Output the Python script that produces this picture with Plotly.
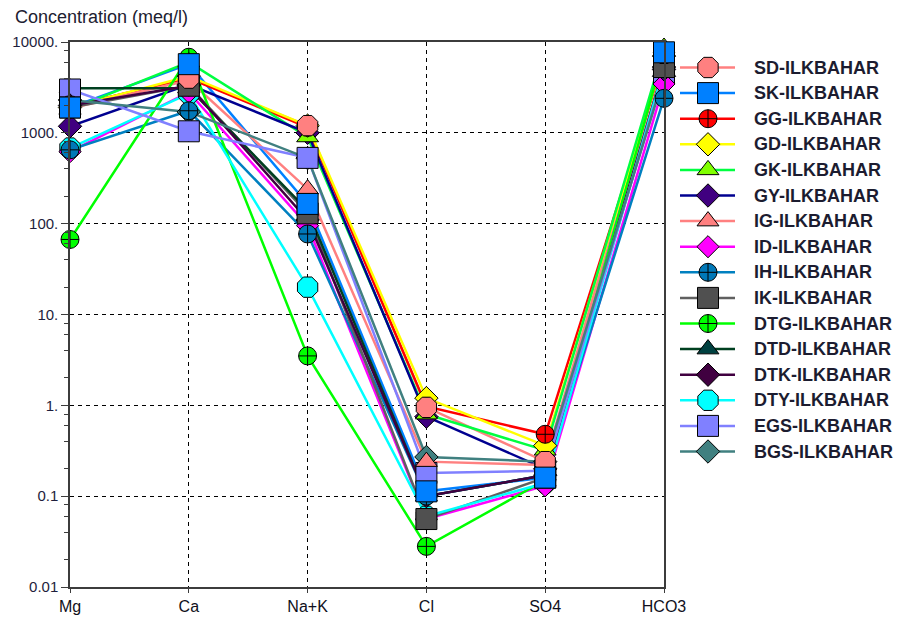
import plotly.graph_objects as go

# Ions along the x axis
ions = ["Mg", "Ca", "Na+K", "Cl", "SO4", "HCO3"]

# Concentrations (meq/l) per sampling point, in ion order above
SD = [1950, 4000, 1200, 0.95, 0.24, 7500]
SK = [1900, 5700, 165, 0.113, 0.16, 7700]
GG = [1950, 4000, 1150, 0.97, 0.48, 6500]
GD = [1900, 4200, 1200, 1.2, 0.36, 7000]
GK = [1800, 6000, 900, 0.8, 0.32, 8700]
GY = [1180, 3400, 1000, 0.75, 0.20, 5000]
IG = [1850, 3800, 240, 0.24, 0.22, 5500]
ID = [620, 2800, 95, 0.056, 0.13, 3450]
IH = [650, 1750, 77, 0.10, 0.17, 2400]
IK = [1900, 3300, 130, 0.056, 0.16, 5300]
DTG = [67, 6800, 3.5, 0.028, 0.15, 7800]
DTD = [3100, 3100, 140, 0.10, 0.17, 5000]
DTK = [2000, 3300, 110, 0.10, 0.17, 5300]
DTY = [680, 2700, 20, 0.06, 0.14, 5200]
EGS = [3000, 1040, 530, 0.18, 0.19, 4500]
BGS = [2300, 1700, 527, 0.27, 0.24, 4200]

names = ["SD-ILKBAHAR", "SK-ILKBAHAR", "GG-ILKBAHAR", "GD-ILKBAHAR", "GK-ILKBAHAR",
         "GY-ILKBAHAR", "IG-ILKBAHAR", "ID-ILKBAHAR", "IH-ILKBAHAR", "IK-ILKBAHAR",
         "DTG-ILKBAHAR", "DTD-ILKBAHAR", "DTK-ILKBAHAR", "DTY-ILKBAHAR", "EGS-ILKBAHAR",
         "BGS-ILKBAHAR"]
series = [SD, SK, GG, GD, GK, GY, IG, ID, IH, IK, DTG, DTD, DTK, DTY, EGS, BGS]

y_ticks = [0.01, 0.1, 1, 10, 100, 1000, 10000]
y_ticktext = ["0.01", "0.1", "1.", "10.", "100.", "1000.", "10000."]

# (line colour, marker fill, symbol, marker size)
styles = [
    ("#FF8080", "#FF8080", "octagon", 22),
    ("#0080FF", "#0080FF", "square", 21),
    ("#FF0000", "#FF0000", "circle-cross", 18),
    ("#FFFF00", "#FFFF00", "diamond", 18),
    ("#00FF40", "#80FF00", "triangle-up", 19),
    ("#000090", "#400080", "diamond", 18),
    ("#FF8080", "#FF8080", "triangle-up", 19),
    ("#FF00FF", "#FF00FF", "diamond", 17),
    ("#0080C0", "#0078B8", "circle-cross", 18),
    ("#606060", "#505050", "square", 21),
    ("#00FF00", "#00FF00", "circle-cross", 18),
    ("#004020", "#004040", "triangle-up", 19),
    ("#400040", "#400040", "diamond", 18),
    ("#00FFFF", "#00FFFF", "octagon", 22),
    ("#8080FF", "#8080FF", "square", 21),
    ("#408080", "#408080", "diamond", 18),
]

# stacking of the markers, bottom first
stack = ["BGS", "DTD", "EGS", "DTY", "DTK", "DTG", "ID", "IH", "GY", "IG",
         "GK", "GD", "GG", "IK", "SD", "SK"]

W, H = 900, 620
ML, MT, MB = 70, 42, 33
plot_w = 594
paper_w = W - ML
xdom_main = plot_w / paper_w

fig = go.Figure()
xs = list(range(len(ions)))

# connecting lines first
for vals, (lc, fc, sym, sz) in zip(series, styles):
    fig.add_trace(go.Scatter(x=xs, y=vals, mode="lines",
                             line=dict(color=lc, width=2.5),
                             hoverinfo="skip", showlegend=False, cliponaxis=False))

short = [n.split("-")[0] for n in names]
for key in stack:
    i = short.index(key)
    lc, fc, sym, sz = styles[i]
    fig.add_trace(go.Scatter(x=xs, y=series[i], mode="markers", name=names[i],
                             marker=dict(symbol=sym, size=sz, color=fc,
                                         line=dict(color="#000000", width=1)),
                             showlegend=False, cliponaxis=False))

# key on its own pixel-scaled axes at the right
row0, row_step = 67.5, 25.6
annotations = []
for i, (nm, (lc, fc, sym, sz)) in enumerate(zip(names, styles)):
    yy = row0 + i * row_step
    fig.add_trace(go.Scatter(x=[680, 735], y=[yy, yy], mode="lines",
                             line=dict(color=lc, width=2.5), xaxis="x2", yaxis="y2",
                             showlegend=False, hoverinfo="skip", cliponaxis=False))
    fig.add_trace(go.Scatter(x=[708], y=[yy], mode="markers", xaxis="x2", yaxis="y2",
                             marker=dict(symbol=sym, size=sz, color=fc,
                                         line=dict(color="#000000", width=1)),
                             showlegend=False, hoverinfo="skip", cliponaxis=False))
    annotations.append(dict(x=752, y=yy, xref="x2", yref="y2", text=nm, showarrow=False,
                            xanchor="left", yanchor="middle",
                            font=dict(family="Liberation Sans, Arial, sans-serif",
                                      size=18, color="#1c1c30", weight="bold")))

annotations.append(dict(x=(13 - ML) / paper_w, y=1 + 25 / (H - MT - MB), xref="paper",
                        yref="paper", text="Concentration (meq/l)", showarrow=False,
                        xanchor="left", yanchor="middle",
                        font=dict(family="Liberation Sans, Arial, sans-serif",
                                  size=18, color="#202030")))

minor_vals = [m * 10 ** e for e in range(-2, 4) for m in (2, 4, 6, 8)]

fig.update_layout(
    width=W, height=H,
    margin=dict(l=ML, r=0, t=MT, b=MB, pad=0, autoexpand=False),
    paper_bgcolor="white", plot_bgcolor="white",
    showlegend=False,
    annotations=annotations,
    xaxis=dict(domain=[0, xdom_main], range=[0, 5], tickmode="array", tickvals=xs,
               ticktext=ions, showgrid=True, gridcolor="#000000", gridwidth=1,
               griddash="4px,4px", zeroline=False, showline=True, mirror=True,
               linecolor="#3c3c3c", linewidth=1.5, ticks="outside", ticklen=4,
               tickcolor="#3c3c3c", automargin=False,
               tickfont=dict(family="Liberation Sans, Arial, sans-serif",
                             size=16, color="#101020")),
    yaxis=dict(domain=[0, 1], type="log", range=[-2, 4], tickmode="array",
               tickvals=y_ticks, ticktext=y_ticktext, showgrid=True,
               gridcolor="#000000", gridwidth=1, griddash="4px,4px", zeroline=False,
               showline=True, mirror=True, linecolor="#3c3c3c", linewidth=1.5,
               ticks="outside", ticklen=7, tickcolor="#3c3c3c", automargin=False,
               minor=dict(tickmode="array", tickvals=minor_vals, ticks="outside",
                          ticklen=4, tickcolor="#3c3c3c", showgrid=False),
               tickfont=dict(family="Liberation Sans, Arial, sans-serif", size=15,
                             color="#1e1e3c")),
    xaxis2=dict(domain=[(670 - ML) / paper_w, 1], range=[670, 900], visible=False,
                anchor="y2", fixedrange=True, automargin=False),
    yaxis2=dict(domain=[0, 1], range=[587, 42], visible=False, anchor="x2",
                fixedrange=True, automargin=False),
)

fig.write_html("out.html")
